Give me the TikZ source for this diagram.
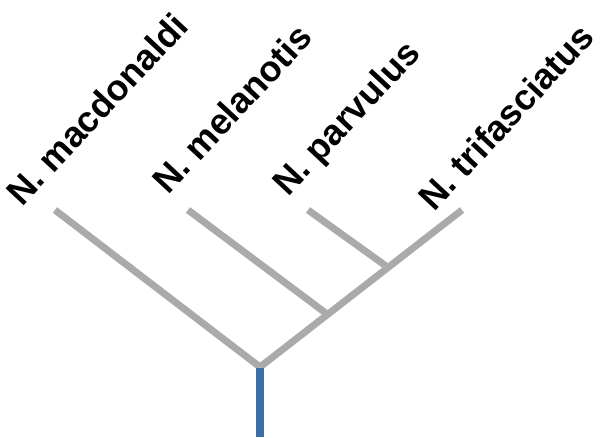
\documentclass[tikz,border=0pt]{standalone}
\usepackage{fontspec}
\setmainfont{Liberation Sans}
\definecolor{branchgray}{RGB}{170,170,170}
\definecolor{rootblue}{RGB}{60,110,165}
\begin{document}
\begin{tikzpicture}[x=1pt,y=-1pt,
  branch/.style={draw=branchgray,line width=7pt},
  rootline/.style={draw=rootblue,line width=8pt},
  taxon/.style={anchor=base west,inner sep=0pt,rotate=47,font=\fontsize{36}{42}\selectfont\bfseries}]
\useasboundingbox (0,0) rectangle (600,437);
\coordinate (base) at (260,437);
\coordinate (r) at (260,367);
\coordinate (n2) at (327,314);
\coordinate (n3) at (386,266);
\coordinate (tmac) at (55,210);
\coordinate (tmel) at (188,210);
\coordinate (tpar) at (308,210);
\coordinate (ttri) at (462,210);
\draw[branch] (tmac) -- (r);
\draw[branch] (r) -- (ttri);
\draw[branch] (tmel) -- (n2);
\draw[branch] (tpar) -- (n3);
\draw[rootline] (base) -- ([yshift=-1pt]r);
\node[taxon] (lmac) at (22,208) {N. macdonaldi};
\node[taxon] (lmel) at (168,196) {N. melanotis};
\node[taxon] (lpar) at (288,198) {N. parvulus};
\node[taxon] (ltri) at (434,213) {N. trifasciatus};
\end{tikzpicture}
\end{document}
